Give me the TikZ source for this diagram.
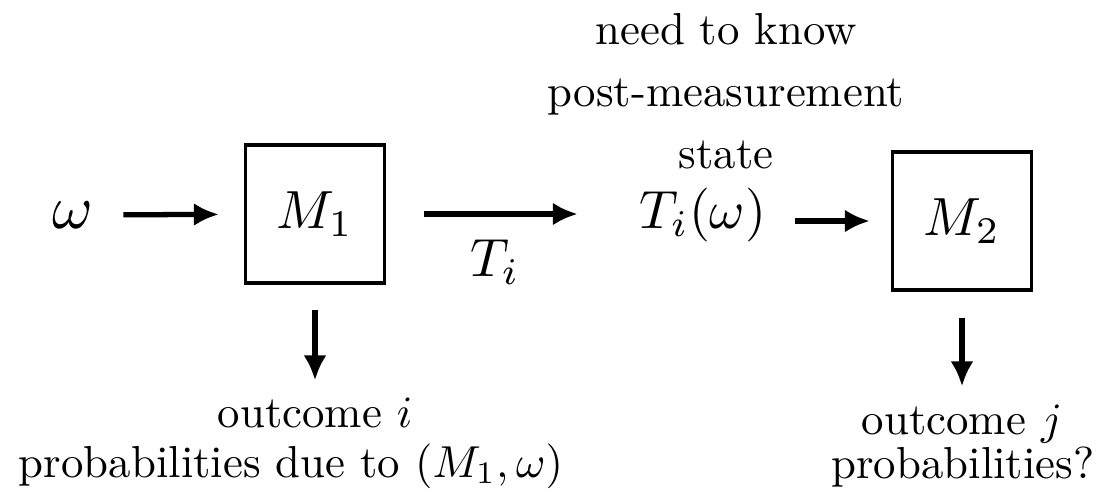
\documentclass[tikz,border=0pt]{standalone}
\usepackage{tikz}
\usetikzlibrary{arrows.meta}

\tikzset{
	mbox/.style={draw, line width=1.9pt, minimum width=2.78cm, minimum height=2.76cm, inner sep=0pt},
	arr/.style={line width=3pt, -{Latex[length=5mm,width=4.6mm]}},
	txt/.style={inner sep=0pt, outer sep=0pt, scale=2.55, transform shape},
	mth/.style={inner sep=0pt, outer sep=0pt, scale=3.06, transform shape}
}
\newcommand{\boxlbl}[1]{\scalebox{3.06}{$#1$}}

\begin{document}
\begin{tikzpicture}[x=0.02cm, y=-0.02cm]
		
		\useasboundingbox (0,0) rectangle (1097,494);
		
		% first measurement
		\node[mth, scale=1.15] (omega) at (73,215) {$\omega$};
		\node[mbox] (M1) at (315,214) {\boxlbl{M_1}};
		\draw[arr, shorten <=0.6cm, shorten >=0.5cm] (omega) -- (M1);
		
		% transformation
		\node[mth] (Tiw) at (703,215) {$T_i(\omega)$};
		\node[txt, align=center, font=\fontsize{10}{13.8}\selectfont] (need) at (726,91) {need to know\\post-measurement\\state};
		\draw[arr, shorten <=0.76cm, shorten >=1.24cm] (M1.east) -- (M1.east -| Tiw.west);
		\node[mth] (Ti) at (495,262) {$T_i$};
		
		% second measurement
		\node[mbox] (M2) at (962,221) {\boxlbl{M_2}};
		\draw[arr, shorten <=0.58cm, shorten >=0.42cm] (Tiw.east |- M2.west) -- (M2.west);
		
		% outcomes
		\node[txt, anchor=base] (outi) at (315,427) {outcome $i$};
		\node[txt, anchor=base] (probi) at (291,477) {probabilities due to $(M_1,\omega)$};
		\draw[arr, shorten <=0.5cm, shorten >=0.34cm] (M1.south) -- (M1.south |- outi.north);
		
		\node[txt, anchor=base] (outj) at (962,434) {outcome $j$};
		\node[txt, anchor=base] (probj) at (963,478) {probabilities?};
		\draw[arr, shorten <=0.52cm, shorten >=0.36cm] (M2.south) -- (M2.south |- outj.north);
		
\end{tikzpicture}
\end{document}
